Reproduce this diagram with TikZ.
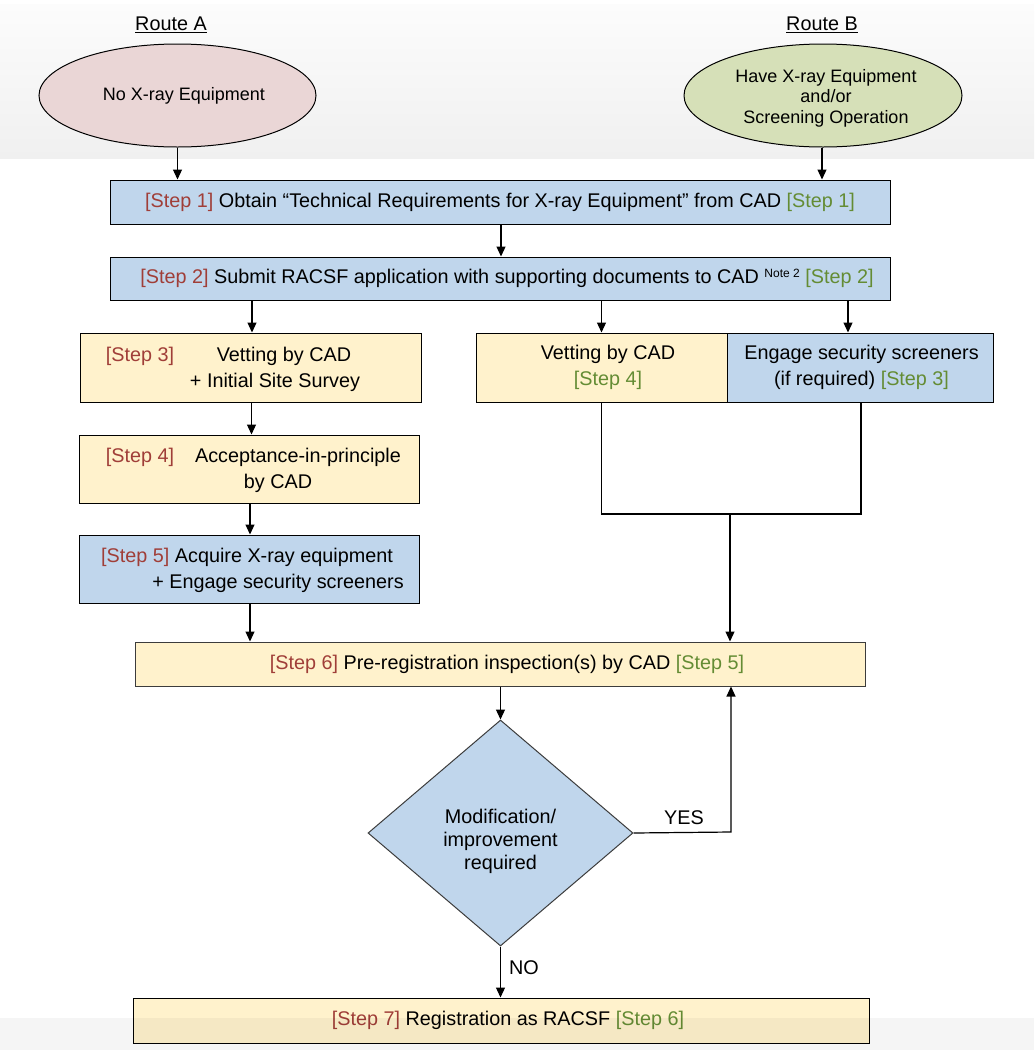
\documentclass[tikz,border=0pt]{standalone}
\usepackage{fontspec}
\setmainfont{Liberation Sans}
\usetikzlibrary{shapes.geometric,arrows.meta}
\definecolor{stepred}{RGB}{160,62,56}
\definecolor{stepgreen}{RGB}{100,140,52}
\definecolor{boxblue}{RGB}{192,214,236}
\definecolor{boxyellow}{RGB}{255,242,204}
\definecolor{ellpink}{RGB}{234,214,214}
\definecolor{ellgreen}{RGB}{214,224,184}
\newcommand{\rs}[1]{\textcolor{stepred}{#1}}
\newcommand{\gs}[1]{\textcolor{stepgreen}{#1}}
\tikzset{
  basefont/.style={font=\fontsize{19.8}{26}\selectfont},
  flowbox/.style={draw=black, line width=1pt, rectangle, inner sep=0pt, basefont, align=center},
  bluebox/.style={flowbox, fill=boxblue},
  yellowbox/.style={flowbox, fill=boxyellow},
  txt/.style={inner sep=0pt, basefont, align=center},
  routeell/.style={draw=black, line width=1pt, ellipse, inner sep=0pt, font=\fontsize{18}{20.5}\selectfont, align=center},
  arr/.style={draw=black, line width=1.2pt, -{Triangle[length=10pt,width=9pt]}},
  ln/.style={draw=black, line width=1.2pt}
}
\begin{document}
\begin{tikzpicture}[x=1pt,y=-1pt]
\useasboundingbox (0,0) rectangle (1034,1050);
\fill[white] (0,0) rectangle (1034,1050);
\shade[top color={rgb,255:red,252;green,252;blue,252}, bottom color={rgb,255:red,240;green,240;blue,240}] (0,4) rectangle (1034,158);

% route labels
\node[txt] (routeA) at (171,25) {\underline{Route A}};
\node[txt] (routeB) at (822,25) {\underline{Route B}};

% ellipses
\node[routeell, fill=ellpink, minimum width=277pt, minimum height=103pt] (ellA) at (177.5,95.5) {\hspace*{13pt}No X-ray Equipment};
\node[routeell, fill=ellgreen, minimum width=278pt, minimum height=103pt] (ellB) at (823,95.5) {};
\node[txt, font=\fontsize{18}{20.5}\selectfont] (ellBt) at (826,98) {Have X-ray Equipment\\ and/or\\ Screening Operation};

% step boxes
\node[bluebox, minimum width=780pt, minimum height=44pt] (s1) at (500,202) {\rs{[Step 1]} Obtain “Technical Requirements for X-ray Equipment” from CAD \gs{[Step 1]}};
\node[bluebox, minimum width=780pt, minimum height=43pt] (s2) at (500,278.5) {\hspace*{14pt}\rs{[Step 2]} Submit RACSF application with supporting documents to CAD {\fontsize{12}{12}\selectfont\raisebox{6pt}{Note 2}} \gs{[Step 2]}};

\node[yellowbox, minimum width=341pt, minimum height=69pt] (s3) at (250.5,367.5) {};
\node[txt] (s3a) at (140,356) {\rs{[Step 3]}};
\node[txt] (s3b) at (284,356) {Vetting by CAD};
\node[txt] (s3c) at (275,382) {+ Initial Site Survey};

\node[yellowbox, minimum width=251pt, minimum height=69pt] (v4) at (601.5,367.5) {\hspace*{13pt}Vetting by CAD\\ \hspace*{13pt}\gs{[Step 4]}};
\node[bluebox, minimum width=266pt, minimum height=69pt] (e3) at (860,367.5) {\hspace*{3pt}Engage security screeners\\ \hspace*{3pt}(if required) \gs{[Step 3]}};

\node[yellowbox, minimum width=340pt, minimum height=68pt] (s4) at (249,469) {};
\node[txt] (s4a) at (140,457) {\rs{[Step 4]}};
\node[txt] (s4b) at (298,457) {Acceptance-in-principle};
\node[txt] (s4c) at (278,483) {by CAD};

\node[bluebox, minimum width=340pt, minimum height=68pt] (s5) at (249,569) {};
\node[txt] (s5a) at (247,557) {\rs{[Step 5]} Acquire X-ray equipment};
\node[txt] (s5b) at (278,583) {+ Engage security screeners};

\node[yellowbox, draw={rgb,255:red,60;green,60;blue,60}, minimum width=730pt, minimum height=44pt] (s6) at (500,664) {\hspace*{14pt}\rs{[Step 6]} Pre-registration inspection(s) by CAD \gs{[Step 5]}};

\node[diamond, draw={rgb,255:red,60;green,60;blue,60}, line width=1pt, fill=boxblue, inner sep=0pt, minimum width=265pt, minimum height=226pt] (dia) at (500.5,833) {};
\node[txt, font=\fontsize{19.8}{23}\selectfont] (diat) at (500.5,841) {Modification/\\ improvement\\ required};

\node[yellowbox, minimum width=736pt, minimum height=45pt] (s7) at (501,1020.5) {\hspace*{14pt}\rs{[Step 7]} Registration as RACSF \gs{[Step 6]}};

% bottom band overlay
\fill[black, opacity=0.04] (0,1018) rectangle (1034,1050);

% connectors
\draw[arr] (ellA.south) -- (ellA.south |- s1.north);
\draw[arr] ([xshift=-1pt]ellB.south) -- ([xshift=-1pt]ellB.south |- s1.north);
\draw[arr] ([xshift=1pt]s1.south) -- ([xshift=1pt]s2.north);
\draw[arr] ([xshift=1.5pt]s3.north |- s2.south) -- ([xshift=1.5pt]s3.north);
\draw[arr] (v4.north |- s2.south) -- (v4.north);
\draw[arr] ([xshift=-12pt]e3.north |- s2.south) -- ([xshift=-12pt]e3.north);
\draw[arr] ([xshift=1pt]s3.south) -- ([xshift=1pt]s3.south |- s4.north);
\draw[arr] ([xshift=1pt]s4.south) -- ([xshift=1pt]s5.north);
\draw[arr] ([xshift=1pt]s5.south) -- ([xshift=1pt]s5.south |- s6.north);

\coordinate (join) at (730,514);
\draw[ln] (v4.south) -- (v4.south |- join) -- ([xshift=1pt]e3.south |- join) -- ([xshift=1pt]e3.south);
\draw[arr] (join) -- (join |- s6.north);

\draw[arr] (dia.north |- s6.south) -- (dia.north);
\coordinate (yesc) at (731,832);
\draw[arr] (dia.east) -- (yesc) -- (yesc |- s6.south);
\draw[arr] (dia.south) -- (dia.south |- s7.north);

\node[txt] (yes) at (684,818) {YES};
\node[txt] (no) at (524,968) {NO};
\end{tikzpicture}
\end{document}
